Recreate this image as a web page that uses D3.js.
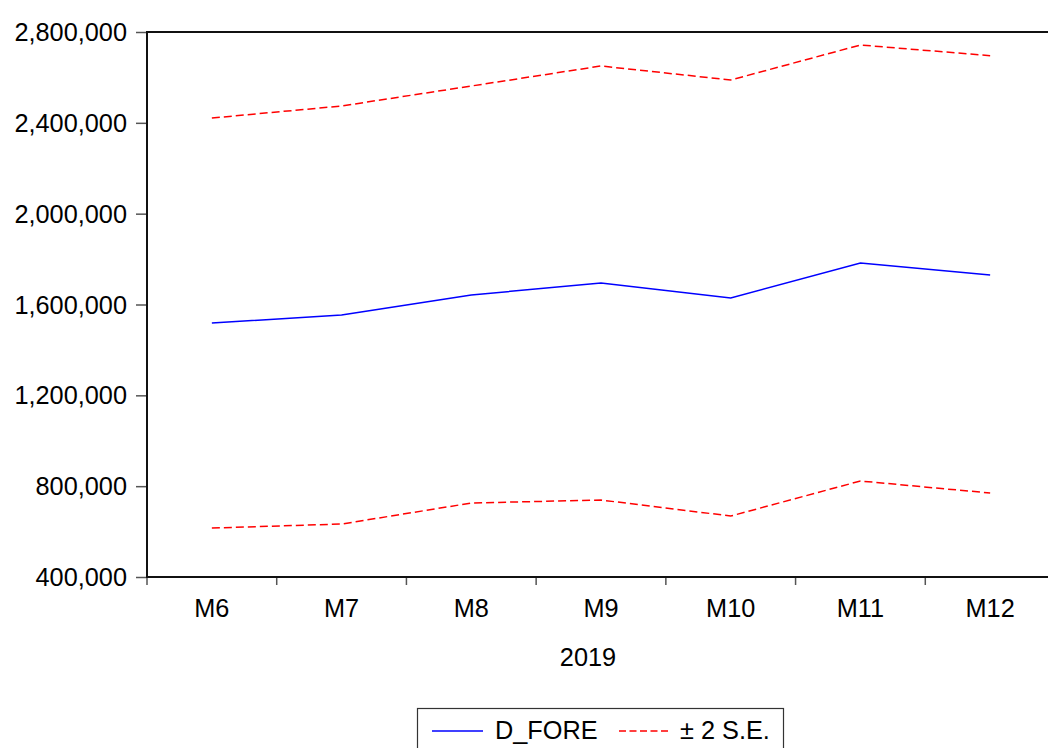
<!DOCTYPE html>
<html>
<head>
<meta charset="utf-8">
<script src="https://cdn.jsdelivr.net/npm/d3@7"></script>
<style>
  html, body { margin: 0; padding: 0; background: #fff; }
  svg { display: block; }
  text { font-family: "Liberation Sans", Arial, sans-serif; fill: #000; }
</style>
</head>
<body>
<svg id="chart" width="1048" height="748"></svg>
<script>
const categories = ["M6", "M7", "M8", "M9", "M10", "M11", "M12"];
const dFore = [1518500, 1553700, 1641800, 1694700, 1628600, 1782700, 1729900];
const upperSE = [2421300, 2474100, 2562200, 2650300, 2588600, 2742800, 2695600];
const lowerSE = [615700, 633300, 725800, 739000, 668500, 822700, 769800];
const yTicks = [400000, 800000, 1200000, 1600000, 2000000, 2400000, 2800000];
const yearLabel = "2019";
const legendLabels = ["D_FORE", "\u00B1 2 S.E."];

const svg = d3.select("#chart");
const pLeft = 147, pRight = 1055, pTop = 32, pBottom = 577;

const x = d3.scaleBand().domain(categories).range([pLeft, pRight]).padding(0);
const y = d3.scaleLinear().domain([400000, 2800000]).range([pBottom, pTop]);
const fmt = d3.format(",");
const fs = 25.3;

// Y axis
const yAxis = svg.append("g").attr("transform", `translate(${pLeft},0)`)
  .call(d3.axisLeft(y).tickValues(yTicks).tickFormat(fmt).tickSize(11).tickPadding(9));
yAxis.select(".domain").remove();
yAxis.selectAll(".tick line").attr("stroke", "#555").attr("stroke-width", 1.5);
yAxis.selectAll(".tick text").style("font-size", fs + "px").attr("dy", "0.34em");

// X axis ticks at band boundaries
const xAxis = svg.append("g").attr("transform", `translate(0,${pBottom})`);
const bounds = categories.map(c => x(c)).concat([x(categories[categories.length - 1]) + x.bandwidth()]);
xAxis.selectAll("line.tk").data(bounds).enter().append("line")
  .attr("x1", d => d).attr("x2", d => d).attr("y1", 0).attr("y2", 8)
  .attr("stroke", "#555").attr("stroke-width", 1.5);
xAxis.selectAll("text.lbl").data(categories).enter().append("text")
  .attr("x", d => x(d) + x.bandwidth() / 2).attr("y", 40)
  .attr("text-anchor", "middle").style("font-size", fs + "px").text(d => d);
svg.append("text").attr("x", 588).attr("y", 666).attr("text-anchor", "middle")
  .style("font-size", fs + "px").text(yearLabel);

// Frame lines
svg.append("line").attr("x1", pLeft).attr("x2", pLeft).attr("y1", pTop - 1).attr("y2", pBottom + 1)
  .attr("stroke", "#111").attr("stroke-width", 2);
svg.append("line").attr("x1", pLeft - 1).attr("x2", 1048).attr("y1", pTop).attr("y2", pTop)
  .attr("stroke", "#111").attr("stroke-width", 2);
svg.append("line").attr("x1", pLeft - 1).attr("x2", 1048).attr("y1", pBottom).attr("y2", pBottom)
  .attr("stroke", "#111").attr("stroke-width", 2);

// Lines
const line = d3.line().x((d, i) => x(categories[i]) + x.bandwidth() / 2).y(d => y(d));
svg.append("path").datum(upperSE).attr("d", line).attr("fill", "none")
  .attr("stroke", "#ff0000").attr("stroke-width", 1.5).attr("stroke-dasharray", "8,4");
svg.append("path").datum(lowerSE).attr("d", line).attr("fill", "none")
  .attr("stroke", "#ff0000").attr("stroke-width", 1.5).attr("stroke-dasharray", "8,4");
svg.append("path").datum(dFore).attr("d", line).attr("fill", "none")
  .attr("stroke", "#0000ff").attr("stroke-width", 1.5);

// Legend
const lg = svg.append("g");
lg.append("rect").attr("x", 417.5).attr("y", 708.5).attr("width", 366).attr("height", 60)
  .attr("fill", "#fff").attr("stroke", "#333").attr("stroke-width", 1.2);
lg.append("line").attr("x1", 432).attr("x2", 483).attr("y1", 731).attr("y2", 731)
  .attr("stroke", "#0000ff").attr("stroke-width", 1.5);
lg.append("text").attr("x", 495).attr("y", 739).style("font-size", fs + "px").text(legendLabels[0]);
lg.append("line").attr("x1", 619).attr("x2", 669).attr("y1", 731).attr("y2", 731)
  .attr("stroke", "#ff0000").attr("stroke-width", 1.5).attr("stroke-dasharray", "7,3.5");
lg.append("text").attr("x", 680).attr("y", 739).style("font-size", fs + "px").text(legendLabels[1]);
</script>
</body>
</html>
